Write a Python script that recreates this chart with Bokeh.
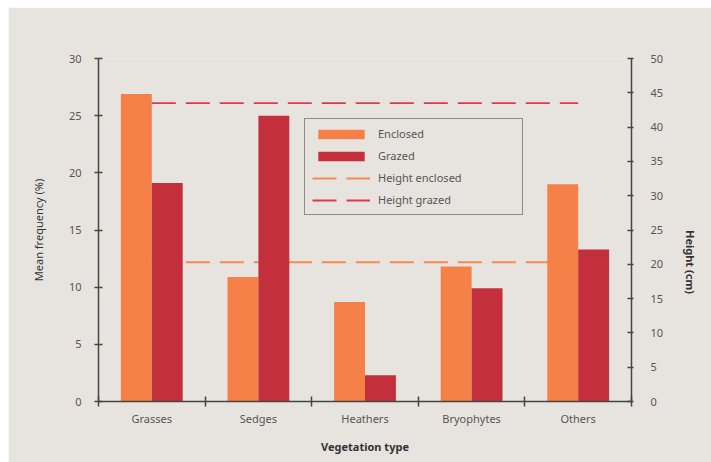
import math
from bokeh.plotting import figure
from bokeh.models import Range1d, LinearAxis, FixedTicker, ColumnDataSource, Legend, LegendItem
from bokeh.embed import file_html
from bokeh.resources import INLINE

categories = ["Grasses", "Sedges", "Heathers", "Bryophytes", "Others"]
enclosed = [26.9, 10.9, 8.7, 11.8, 19.0]
grazed = [19.1, 25.0, 2.3, 9.9, 13.3]
height_enclosed = 20.3
height_grazed = 43.5
freq_ticks = [0, 5, 10, 15, 20, 25, 30]
height_ticks = [0, 5, 10, 15, 20, 25, 30, 35, 40, 45, 50]

BG = "#e7e4df"
C_ENC = "#f58148"
C_GRZ = "#c42f3c"
C_HENC = "#f58a50"
C_HGRZ = "#dc3a48"
AX = "#444444"
TXT = "#555555"
FONT = "Noto Sans"

n = len(categories)
centers = [i + 0.5 for i in range(n)]
bw = 0.29

p = figure(width=703, height=455, output_backend="svg", toolbar_location=None,
           x_range=Range1d(0, n), y_range=Range1d(0, 30),
           min_border_left=90, min_border_top=51, min_border_right=80, min_border_bottom=61)
p.margin = (7, 0, 0, 8)
p.extra_y_ranges = {"h": Range1d(0, 50)}
p.background_fill_color = BG
p.border_fill_color = BG
p.outline_line_color = None
p.grid.visible = False

src = ColumnDataSource(dict(x=centers, cat=categories, enc=enclosed, grz=grazed,
                            xe=[c - bw / 2 for c in centers], xg=[c + bw / 2 for c in centers]))

lsrc_e = ColumnDataSource(dict(x=[centers[0], centers[-1]], y=[height_enclosed] * 2))
lsrc_g = ColumnDataSource(dict(x=[centers[0], centers[-1]], y=[height_grazed] * 2))
le = p.line("x", "y", source=lsrc_e, y_range_name="h", line_color=C_HENC, line_width=1.8, line_dash="24 10")
lg = p.line("x", "y", source=lsrc_g, y_range_name="h", line_color=C_HGRZ, line_width=1.8, line_dash="24 10")

be = p.vbar(x="xe", top="enc", width=bw, source=src, fill_color=C_ENC, line_color=None)
bg = p.vbar(x="xg", top="grz", width=bw, source=src, fill_color=C_GRZ, line_color=None)

# axes
xa = p.xaxis[0]
xa.ticker = FixedTicker(ticks=centers, minor_ticks=list(range(n + 1)))
xa.major_label_overrides = {c: lab for c, lab in zip(centers, categories)}
xa.major_tick_in = 0
xa.major_tick_out = 0
xa.minor_tick_in = 5
xa.minor_tick_out = 5
xa.minor_tick_line_color = AX
xa.major_label_standoff = 4
xa.axis_label = "Vegetation type"
xa.axis_label_text_font_style = "bold"
xa.axis_label_standoff = 10

ya = p.yaxis[0]
ya.ticker = FixedTicker(ticks=freq_ticks)
ya.axis_label = "Mean frequency (%)"
ya.axis_label_text_font_style = "normal"
ya.major_tick_in = 4
ya.major_tick_out = 4
ya.minor_tick_line_color = None
ya.major_label_standoff = 13
ya.axis_label_standoff = 20

ra = LinearAxis(y_range_name="h", ticker=FixedTicker(ticks=height_ticks), axis_label="Height (cm)")
ra.major_tick_in = 4
ra.major_tick_out = 2
ra.minor_tick_line_color = None
ra.major_label_standoff = 17
ra.axis_label_standoff = 24
ra.axis_label_text_font_style = "bold"
ra.axis_label_orientation = -math.pi / 2
p.add_layout(ra, "right")

for ax in [xa, ya, ra]:
    ax.axis_line_color = AX
    ax.axis_line_width = 1.5
    ax.major_tick_line_color = AX
    ax.major_tick_line_width = 1.5
    ax.minor_tick_line_width = 1.5
    ax.major_label_text_color = TXT
    ax.major_label_text_font = FONT
    ax.major_label_text_font_size = "11px"
    ax.axis_label_text_color = "#333333"
    ax.axis_label_text_font = FONT
    ax.axis_label_text_font_size = "11px"

legend = Legend(items=[
    LegendItem(label="Enclosed", renderers=[be]),
    LegendItem(label="Grazed", renderers=[bg]),
    LegendItem(label="Height enclosed", renderers=[le]),
    LegendItem(label="Height grazed", renderers=[lg]),
], location=(206, 186))
legend.background_fill_color = BG
legend.background_fill_alpha = 1
legend.border_line_color = "#333333"
legend.border_line_width = 1
legend.glyph_width = 58
legend.glyph_height = 12
legend.spacing = 7
legend.padding = 7
legend.margin = 0
legend.label_standoff = 8
legend.label_width = 137
legend.label_text_font = FONT
legend.label_text_font_size = "11px"
legend.label_text_color = TXT
legend.label_height = 13
p.add_layout(legend, "center")

open("out.html", "w").write(file_html(p, INLINE))
